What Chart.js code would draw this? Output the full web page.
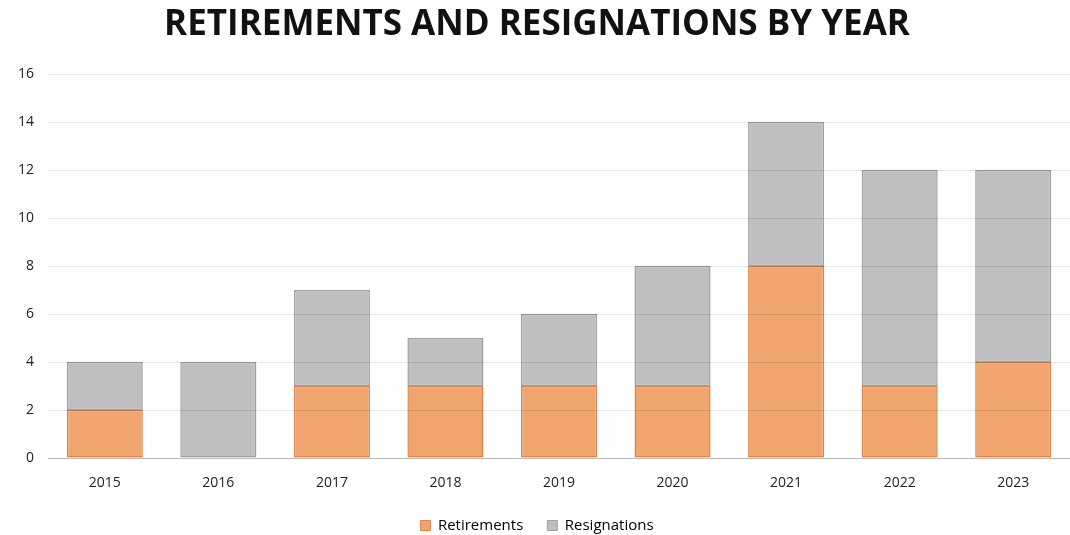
<!DOCTYPE html>
<html>
<head>
<meta charset="utf-8">
<script src="https://cdn.jsdelivr.net/npm/chart.js@4"></script>
<style>
  html, body { margin: 0; padding: 0; background: #fff; }
  #wrap { width: 1070px; height: 535px; }
</style>
</head>
<body>
<div id="wrap"><canvas id="chart"></canvas></div>
<script>
const years = ['2015', '2016', '2017', '2018', '2019', '2020', '2021', '2022', '2023'];
const retirements = [2, 0, 3, 3, 3, 3, 8, 3, 4];
const resignations = [2, 4, 4, 2, 3, 5, 6, 9, 8];

const fontFamily = "'Open Sans', 'Liberation Sans', sans-serif";

new Chart(document.getElementById('chart'), {
  type: 'bar',
  data: {
    labels: years,
    datasets: [
      {
        label: 'Retirements',
        data: retirements,
        backgroundColor: '#F0A56F',
        borderColor: '#D4854D',
        borderWidth: 1.5,
        borderSkipped: false,
        categoryPercentage: 0.67,
        barPercentage: 1
      },
      {
        label: 'Resignations',
        data: resignations,
        backgroundColor: '#BFBFBF',
        borderColor: '#A0A0A0',
        borderWidth: 1.5,
        borderSkipped: false,
        categoryPercentage: 0.67,
        barPercentage: 1
      }
    ]
  },
  options: {
    responsive: true,
    maintainAspectRatio: false,
    animation: false,
    layout: { padding: { left: 4, right: 0, top: 0, bottom: 0 } },
    plugins: {
      title: {
        display: true,
        text: 'RETIREMENTS AND RESIGNATIONS BY YEAR',
        color: '#111',
        font: { family: fontFamily, size: 35, weight: 'bold' },
        padding: { top: 4, bottom: 28 }
      },
      legend: {
        position: 'bottom',
        maxHeight: 41,
        labels: {
          color: '#333',
          font: { family: fontFamily, size: 15 },
          boxWidth: 10,
          boxHeight: 10,
          padding: 24,
          generateLabels: chart => chart.data.datasets.map((ds, i) => ({
            text: ds.label,
            fillStyle: ds.backgroundColor,
            strokeStyle: ds.borderColor,
            lineWidth: 1,
            datasetIndex: i
          }))
        }
      },
      tooltip: { enabled: false }
    },
    scales: {
      x: {
        stacked: true,
        grid: { display: false },
        border: { color: '#d0d0d0' },
        ticks: { color: '#222', font: { family: fontFamily, size: 14 }, padding: 9 },
        afterFit: scale => { scale.height = 36; }
      },
      y: {
        stacked: true,
        min: 0,
        max: 16,
        ticks: { stepSize: 2, color: '#222', font: { family: fontFamily, size: 14 }, padding: 14 },
        grid: { color: 'rgba(0,0,0,0.1)', z: 1, drawTicks: false },
        border: { display: false }
      }
    }
  }
});
</script>
</body>
</html>
